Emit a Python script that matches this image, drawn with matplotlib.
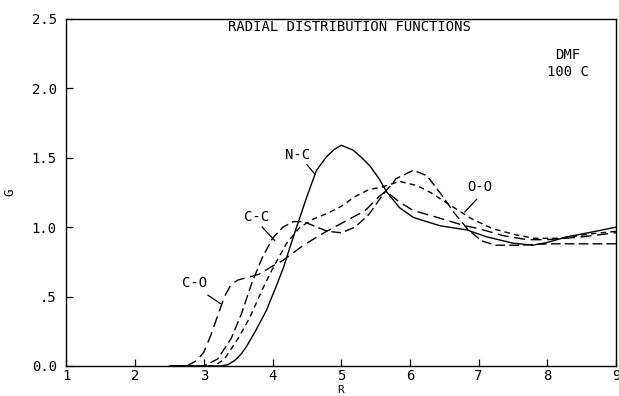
import matplotlib
matplotlib.use('Agg')
import matplotlib.pyplot as plt

plt.rcParams['font.family'] = ['DejaVu Sans Mono']

# N-C, solid
nc_r = [2.5, 3.25, 3.35, 3.45, 3.55, 3.62, 3.75, 3.91, 4.05, 4.16, 4.25, 4.35, 4.5, 4.64,
        4.79, 4.9, 5.0, 5.1, 5.17, 5.3, 5.42, 5.55, 5.66, 5.85, 6.05, 6.44, 6.83, 7.12,
        7.5, 7.79, 8.0, 8.28, 8.6, 9.0]
nc_g = [0.0, 0.0, 0.01, 0.04, 0.09, 0.14, 0.25, 0.40, 0.57, 0.71, 0.85, 1.0, 1.22, 1.41,
        1.51, 1.56, 1.59, 1.57, 1.556, 1.5, 1.44, 1.35, 1.255, 1.14, 1.07, 1.01, 0.98, 0.93,
        0.885, 0.87, 0.89, 0.93, 0.96, 1.0]

# C-C, long dash
cc_r = [2.5, 3.0, 3.2, 3.4, 3.55, 3.7, 3.85, 4.0, 4.15, 4.3, 4.45, 4.6, 4.8, 5.0, 5.2,
        5.4, 5.6, 5.8, 6.05, 6.25, 6.45, 6.65, 6.85, 7.05, 7.25, 7.6, 8.0, 8.5, 9.0]
cc_g = [0.0, 0.0, 0.05, 0.2, 0.38, 0.6, 0.78, 0.92, 1.0, 1.04, 1.04, 1.01, 0.97, 0.96, 1.0,
        1.09, 1.23, 1.35, 1.41, 1.37, 1.24, 1.1, 0.98, 0.9, 0.87, 0.87, 0.88, 0.88, 0.88]

# C-O, long dash
co_r = [2.5, 2.75, 2.9, 3.0, 3.1, 3.2, 3.3, 3.4, 3.5, 3.65, 3.8, 4.0, 4.15, 4.45, 4.75,
        5.05, 5.35, 5.55, 5.65, 5.85, 6.05, 6.4, 6.8, 7.0, 7.35, 7.7, 8.0, 8.5, 9.0]
co_g = [0.0, 0.0, 0.04, 0.1, 0.22, 0.36, 0.5, 0.59, 0.62, 0.64, 0.66, 0.72, 0.76, 0.87, 0.96,
        1.04, 1.12, 1.22, 1.26, 1.18, 1.12, 1.07, 1.01, 0.99, 0.94, 0.91, 0.91, 0.93, 0.96]

# O-O, medium dash
oo_r = [2.5, 3.15, 3.3, 3.5, 3.67, 3.85, 4.0, 4.2, 4.4, 4.6, 4.8, 5.0, 5.2, 5.4, 5.6,
        5.85, 6.1, 6.3, 6.55, 6.9, 7.2, 7.5, 7.8, 8.2, 8.6, 9.0]
oo_g = [0.0, 0.0, 0.05, 0.2, 0.35, 0.55, 0.7, 0.88, 1.0, 1.06, 1.1, 1.15, 1.22, 1.27, 1.29,
        1.33, 1.3, 1.25, 1.17, 1.06, 0.99, 0.95, 0.92, 0.92, 0.95, 0.97]

x_ticks = [1, 2, 3, 4, 5, 6, 7, 8, 9]
y_ticks = [0.0, 0.5, 1.0, 1.5, 2.0, 2.5]
y_labels = ['0.0', '.5', '1.0', '1.5', '2.0', '2.5']

fig = plt.figure(figsize=(6.19, 3.96), dpi=100)
ax = fig.add_axes([0.1074, 0.0758, 0.8877, 0.8763])

ax.plot(nc_r, nc_g, color='black', lw=1.0)
ax.plot(cc_r, cc_g, color='black', lw=1.0, dashes=(7, 3))
ax.plot(co_r, co_g, color='black', lw=1.0, dashes=(8, 4))
ax.plot(oo_r, oo_g, color='black', lw=1.0, dashes=(4, 3))

ax.set_xlim(1, 9)
ax.set_ylim(0, 2.5)
ax.set_xticks(x_ticks)
ax.set_xticklabels([str(t) for t in x_ticks])
ax.set_yticks(y_ticks)
ax.set_yticklabels(y_labels)
ax.tick_params(direction='in', length=5, width=0.9, labelsize=10)
ax.tick_params(axis='x', pad=2)
ax.tick_params(axis='y', pad=7)
for s in ax.spines.values():
    s.set_linewidth(1.0)

# axis names sit tight under the ticks, as in the original
fig.text(341 / 619, 1 - 390 / 396, 'R', ha='center', va='center', fontsize=8)
ax.set_ylabel('G', fontsize=9, labelpad=11)

ax.text(5.12, 2.44, 'RADIAL DISTRIBUTION FUNCTIONS', ha='center', va='center', fontsize=10)
ax.text(8.30, 2.24, 'DMF', ha='center', va='center', fontsize=10)
ax.text(8.30, 2.12, '100 C', ha='center', va='center', fontsize=10)

# curve labels with pointer lines
ax.text(4.37, 1.52, 'N-C', ha='center', va='center', fontsize=10)
ax.plot([4.5, 4.62], [1.45, 1.38], color='black', lw=0.9)
ax.text(3.77, 1.07, 'C-C', ha='center', va='center', fontsize=10)
ax.plot([3.85, 4.03], [1.0, 0.905], color='black', lw=0.9)
ax.text(2.87, 0.6, 'C-O', ha='center', va='center', fontsize=10)
ax.plot([3.06, 3.24], [0.51, 0.45], color='black', lw=0.9)
ax.text(7.02, 1.29, 'O-O', ha='center', va='center', fontsize=10)
ax.plot([6.97, 6.8], [1.20, 1.11], color='black', lw=0.9)

fig.savefig('out.png', dpi=100)
